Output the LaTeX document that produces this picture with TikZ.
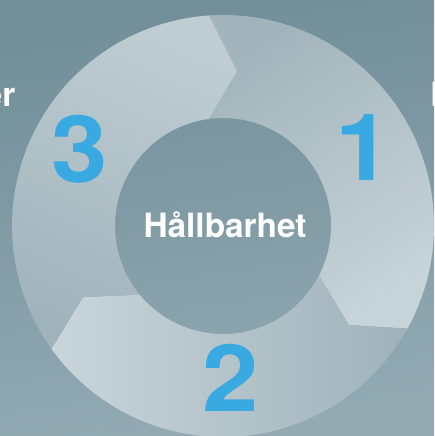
\documentclass[tikz,border=0pt]{standalone}
\usepackage{fontspec}
\setmainfont{TeX Gyre Heros}
\definecolor{bgtop}{HTML}{718E99}
\definecolor{bgbot}{HTML}{93AAB3}
\definecolor{numblue}{HTML}{39A9E1}
\definecolor{sThreeL}{HTML}{BFCDD3}
\definecolor{sThreeD}{HTML}{A0B3BB}
\definecolor{sOneL}{HTML}{C6D3D9}
\definecolor{sOneD}{HTML}{A2B4BB}
\definecolor{sTwoL}{HTML}{C9D5DB}
\definecolor{sTwoD}{HTML}{9FB2BA}
\tikzset{
  bignum/.style={text=numblue, inner sep=0pt, anchor=base, font=\bfseries\fontsize{93}{93}\selectfont},
  whitetext/.style={text=white, inner sep=0pt, font=\bfseries\fontsize{33.4}{36}\selectfont}
}
\begin{document}
\begin{tikzpicture}[x=1pt,y=1pt]
\useasboundingbox (0,0) rectangle (434,-436);
\clip (0,0) rectangle (434,-436);
\shade[top color=bgtop, bottom color=bgbot, shading angle=8] (0,0) rectangle (434,-436);
\begin{scope}[shift={(223,-226)}]
  % segment 1 (right)
  \shade[top color=sOneD, bottom color=sOneL, shading angle=33]
    (93.8:211) arc[start angle=93.8, end angle=-29.1, radius=211]
    -- (-38.2:160.2) -- (-27.3:108)
    arc[start angle=-27.3, end angle=97.5, radius=108]
    -- (84.8:155.6) -- cycle;
  % segment 2 (bottom)
  \shade[left color=sTwoL, right color=sTwoD]
    (-29.1:211) arc[start angle=-29.1, end angle=-144.4, radius=211]
    -- (206.9:157) -- (219.5:108)
    arc[start angle=219.5, end angle=332.7, radius=108]
    -- (-38.2:160.2) -- cycle;
  % segment 3 (left)
  \shade[top color=sThreeL, bottom color=sThreeD, shading angle=-24]
    (215.6:211) arc[start angle=215.6, end angle=93.8, radius=211]
    -- (84.8:155.6) -- (97.5:108)
    arc[start angle=97.5, end angle=219.5, radius=108]
    -- (206.9:157) -- cycle;
\end{scope}
\node[whitetext, anchor=base] (center) at (225,-237) {Hållbarhet};
\node[whitetext, anchor=base east] (lefttext) at (15.5,-106) {er};
\node[whitetext, anchor=base west] (righttext) at (429.8,-106) {E};
\node[bignum] (n3) at (80,-182) {\scalebox{1.09}[1]{3}};
\node[bignum] (n1) at (363.5,-180) {\scalebox{1.09}[1]{1}};
\node[bignum] (n2) at (230.5,-411) {\scalebox{1.09}[1]{2}};
\end{tikzpicture}
\end{document}
